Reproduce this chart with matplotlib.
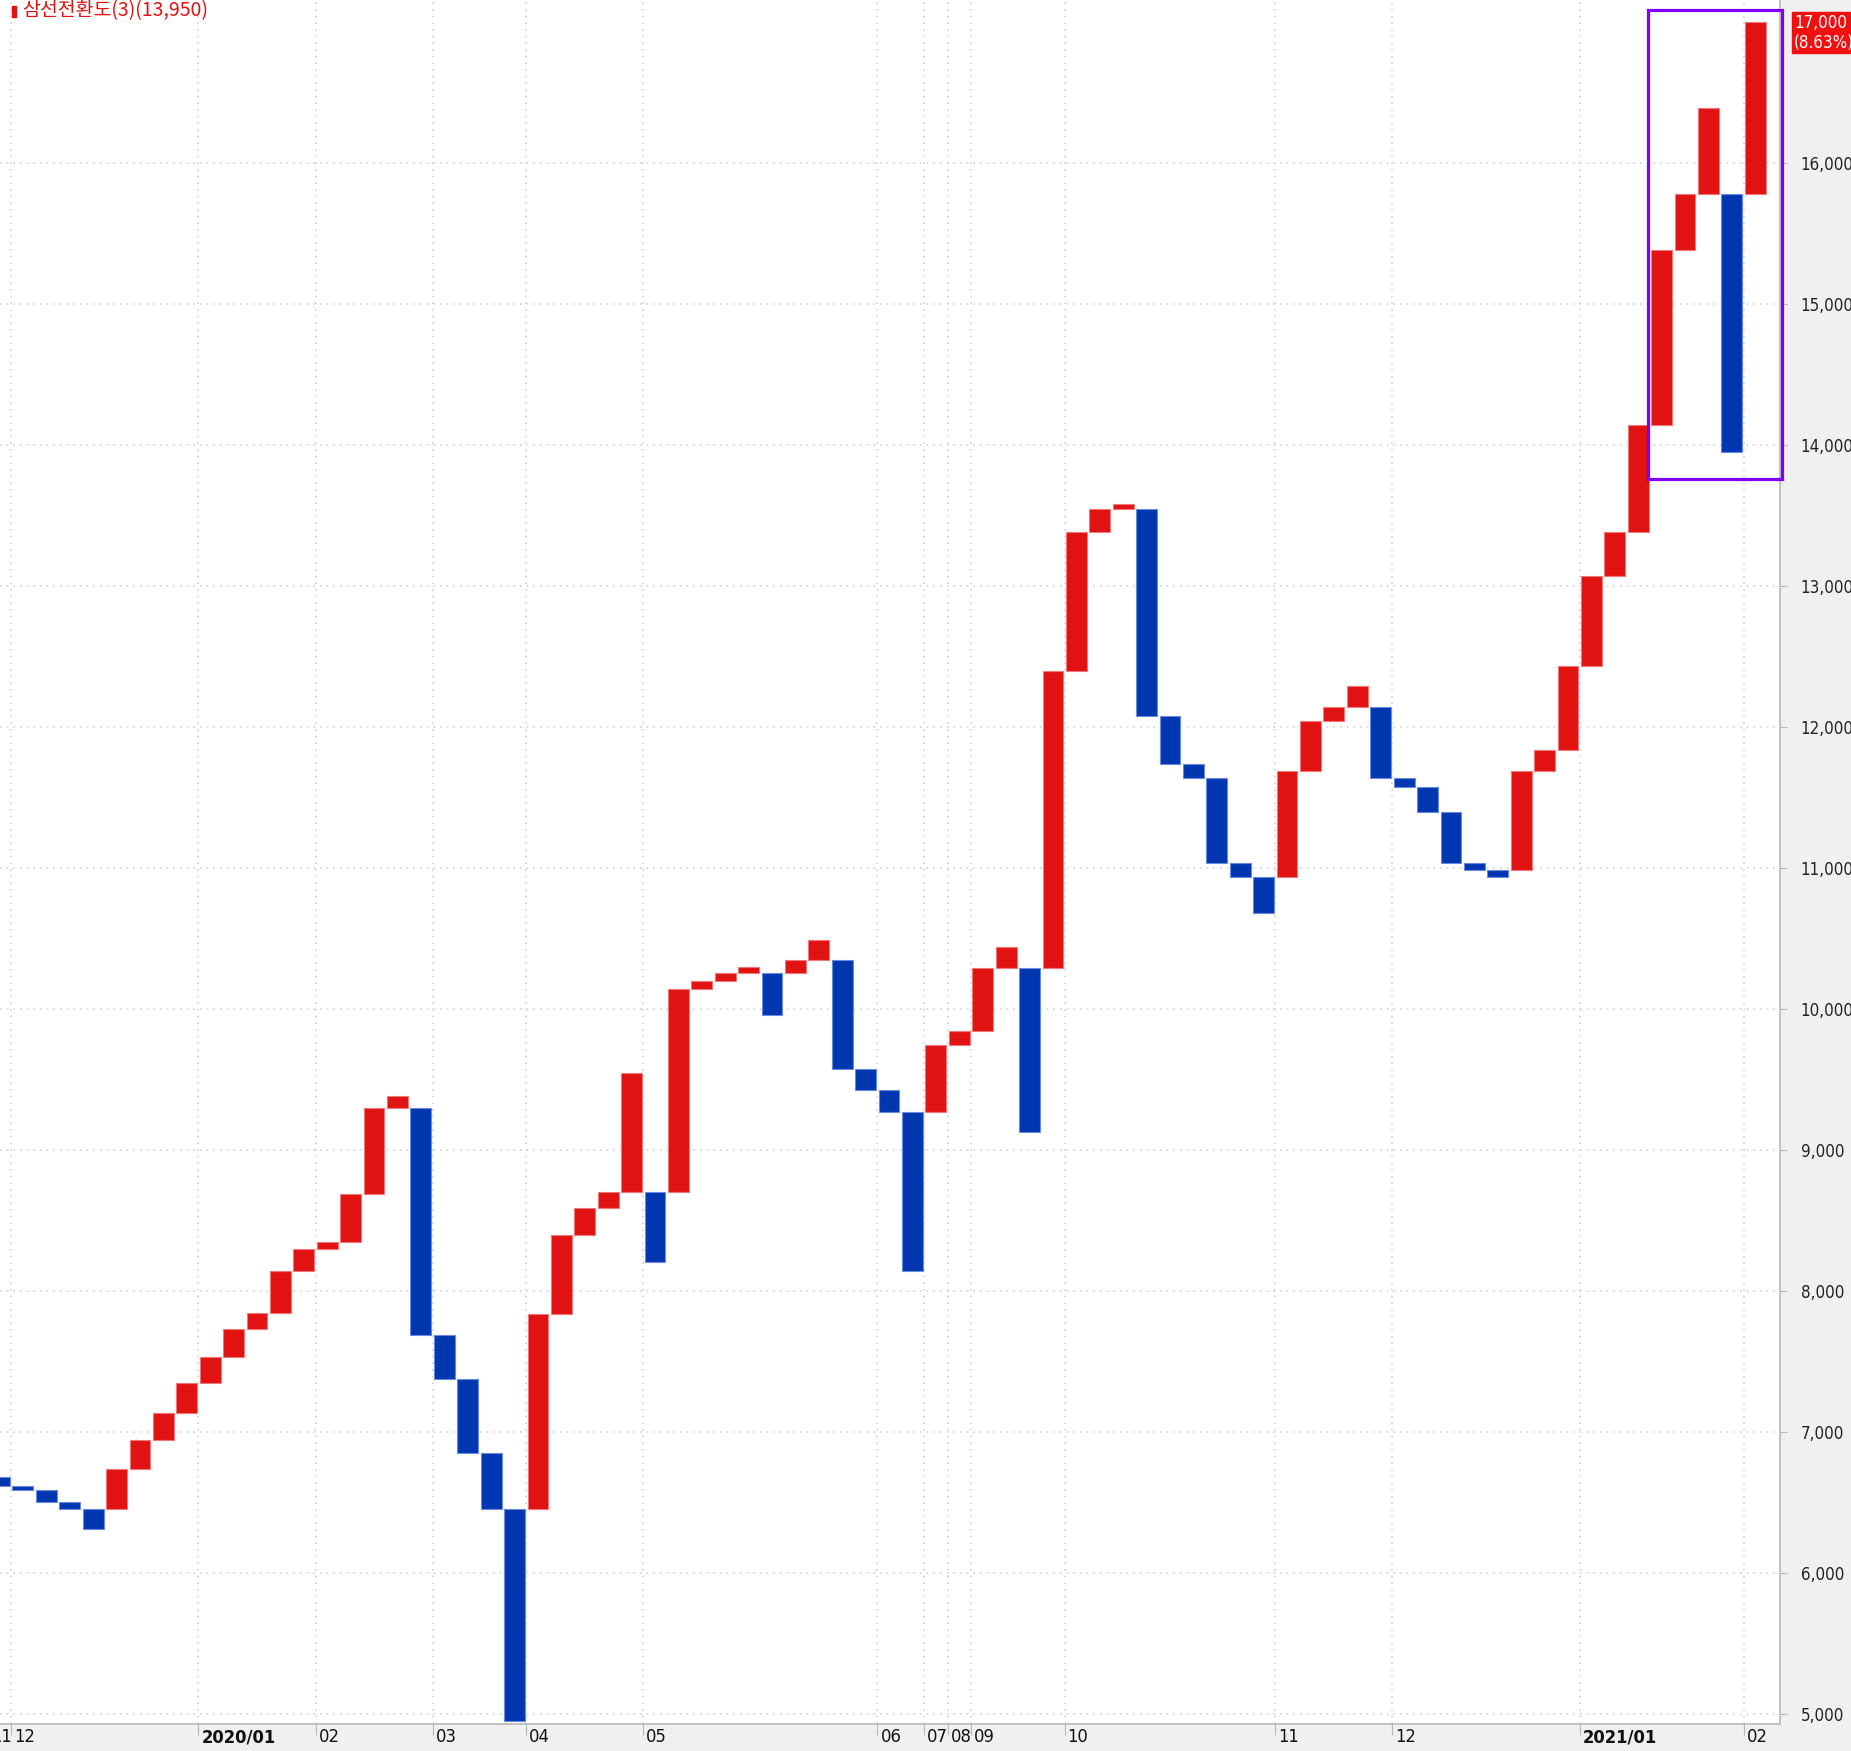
import matplotlib
matplotlib.use('Agg')
import matplotlib.pyplot as plt
from matplotlib import font_manager
from matplotlib.font_manager import FontProperties
from matplotlib.patches import Rectangle
from matplotlib.ticker import FuncFormatter

# 삼선전환도 bricks: each brick goes from brick_open to brick_close
brick_open = [6680, 6620, 6590, 6500, 6455, 6455, 6740, 6940, 7135, 7345,
              7530, 7730, 7845, 8145, 8300, 8350, 8690, 9300, 9300, 7690,
              7375, 6850, 6455, 6455, 7835, 8400, 8590, 8700, 8700, 8700,
              10140, 10195, 10255, 10255, 10255, 10350, 10350, 9575, 9425, 9270,
              9270, 9745, 9845, 10290, 10290, 10290, 12400, 13385, 13545, 13545,
              12080, 11740, 11635, 11035, 10935, 10935, 11685, 12045, 12140, 12140,
              11635, 11575, 11395, 11035, 10985, 10985, 11685, 11835, 12430, 13070,
              13385, 14140, 15385, 15780, 15780, 15780]
brick_close = [6620, 6590, 6500, 6455, 6315, 6740, 6940, 7135, 7345, 7530,
               7730, 7845, 8145, 8300, 8350, 8690, 9300, 9380, 7690, 7375,
               6850, 6455, 4950, 7835, 8400, 8590, 8700, 9545, 8205, 10140,
               10195, 10255, 10295, 9960, 10350, 10490, 9575, 9425, 9270, 8140,
               9745, 9845, 10290, 10440, 9125, 12400, 13385, 13545, 13585, 12080,
               11740, 11635, 11035, 10935, 10680, 11685, 12045, 12140, 12290, 11635,
               11575, 11395, 11035, 10985, 10935, 11685, 11835, 12430, 13070, 13385,
               14140, 15385, 15780, 16390, 13950, 17000]

# month labels sit at the left edge of the brick where the month starts
tick_idx = [0, 1, 9, 14, 19, 23, 28, 38, 40, 41, 42, 46, 55, 60, 68, 75]
tick_labels = ['11', '12', '2020/01', '02', '03', '04', '05', '06', '07', '08',
               '09', '10', '11', '12', '2021/01', '02']

price_ticks = list(range(5000, 17000, 1000))
last_price = 17000
last_change = '8.63%'
title = '삼선전환도(3)(13,950)'

RED = '#e11212'
BLUE = '#0037b1'


def is_narrow(f):
    return 'Narrow' in f.name or 'Condensed' in f.name or f.stretch in ('condensed', 'semi-condensed')


# look for an upright narrow face (regular + bold), the original uses a condensed bitmap font
fp = FontProperties(family='DejaVu Sans')
fp_bold = FontProperties(family='DejaVu Sans', weight='bold')
reg = [f for f in font_manager.fontManager.ttflist
       if is_narrow(f) and f.style == 'normal' and f.weight in (400, 'normal', 'regular')]
if reg:
    fam = reg[0].name
    fp = FontProperties(fname=reg[0].fname)
    bold = [f for f in font_manager.fontManager.ttflist
            if f.name == fam and is_narrow(f) and f.style == 'normal'
            and f.weight in (700, 'bold')]
    fp_bold = FontProperties(fname=bold[0].fname) if bold else fp

W, H = 1851, 1751
fig = plt.figure(figsize=(W / 100, H / 100), dpi=100, facecolor='#f0f0f0')
renderer = fig.canvas.get_renderer()

# size the axis text so "16,000" fits in the 54 px right panel
probe = fig.text(0, 0, '16,000', fontproperties=fp, fontsize=15)
wpx = probe.get_window_extent(renderer).width
probe.remove()
fs = min(15, 15 * 53 / wpx)

ax = fig.add_axes([0, 27 / H, 1780 / W, 1724 / H], facecolor='white')

px_per_bar = 23.41
x0 = 0.5 / px_per_bar
ax.set_xlim(x0, x0 + 1780 / px_per_bar)
ax.set_ylim(4929, 4929 + 1724 / 0.141)

xs = list(range(len(brick_open)))
heights = [c - o for o, c in zip(brick_open, brick_close)]
colors = [RED if h > 0 else BLUE for h in heights]
edges = ['#f07878' if h > 0 else '#6a8ae0' for h in heights]
ax.bar(xs, heights, bottom=brick_open, width=0.89, color=colors,
       edgecolor=edges, linewidth=0.8, zorder=3)

# grid
ax.set_yticks(price_ticks)
vis_ticks = [i - 0.5 for i in tick_idx if i - 0.5 > x0]
ax.set_xticks(vis_ticks)
ax.grid(True, linestyle=(0, (1, 3)), color='#d2d2d2', linewidth=1.2, zorder=0)

for s in ['top', 'left']:
    ax.spines[s].set_visible(False)
for s in ['right', 'bottom']:
    ax.spines[s].set_color('#b8b8b8')
    ax.spines[s].set_linewidth(1.2)

ax.yaxis.tick_right()
ax.tick_params(axis='y', direction='out', length=5, color='#b8b8b8', pad=10,
               labelcolor='#222222')
ax.yaxis.set_major_formatter(FuncFormatter(lambda v, p: f'{int(v):,}'))
for t in ax.get_yticklabels():
    t.set_fontproperties(fp)
    t.set_fontsize(fs)
ax.tick_params(axis='x', direction='out', length=8, color='#b8b8b8',
               labelbottom=False)

# month labels
for i, lbl in zip(tick_idx, tick_labels):
    p = (fp_bold if '/' in lbl else fp).copy()
    p.set_size(fs + 1)
    ax.text(i - 0.5 + 3 / px_per_bar, -4 / 1724, lbl, transform=ax.get_xaxis_transform(),
            ha='left', va='top', fontproperties=p, color='#111111', clip_on=False)

# last price box
fig.patches.append(Rectangle((1792 / W, 1 - 53 / H), 60 / W, 41 / H,
                             transform=fig.transFigure, color='#f01010', zorder=5))
fig.text(1794 / W, 1 - 23 / H, f'{last_price:,}', color='white', fontproperties=fp,
         fontsize=fs, va='center', ha='left', zorder=6)
fig.text(1794 / W, 1 - 43 / H, f'({last_change})', color='white', fontproperties=fp,
         fontsize=fs, va='center', ha='left', zorder=6)

# highlight box around the last bricks
fig.patches.append(Rectangle((1648 / W, 1 - 479 / H), 134 / W, 469 / H,
                             transform=fig.transFigure, fill=False,
                             edgecolor='#8000ff', linewidth=2.3, zorder=7))

# title
fig.patches.append(Rectangle((12 / W, 1 - 17 / H), 4 / W, 11 / H,
                             transform=fig.transFigure, color=RED, zorder=5))
fig.text(22 / W, 1 - 0 / H, title, color=RED, fontsize=14, va='top', ha='left',
         family=['Noto Sans CJK KR', 'DejaVu Sans'])

fig.savefig('out.png', dpi=100, facecolor=fig.get_facecolor())
